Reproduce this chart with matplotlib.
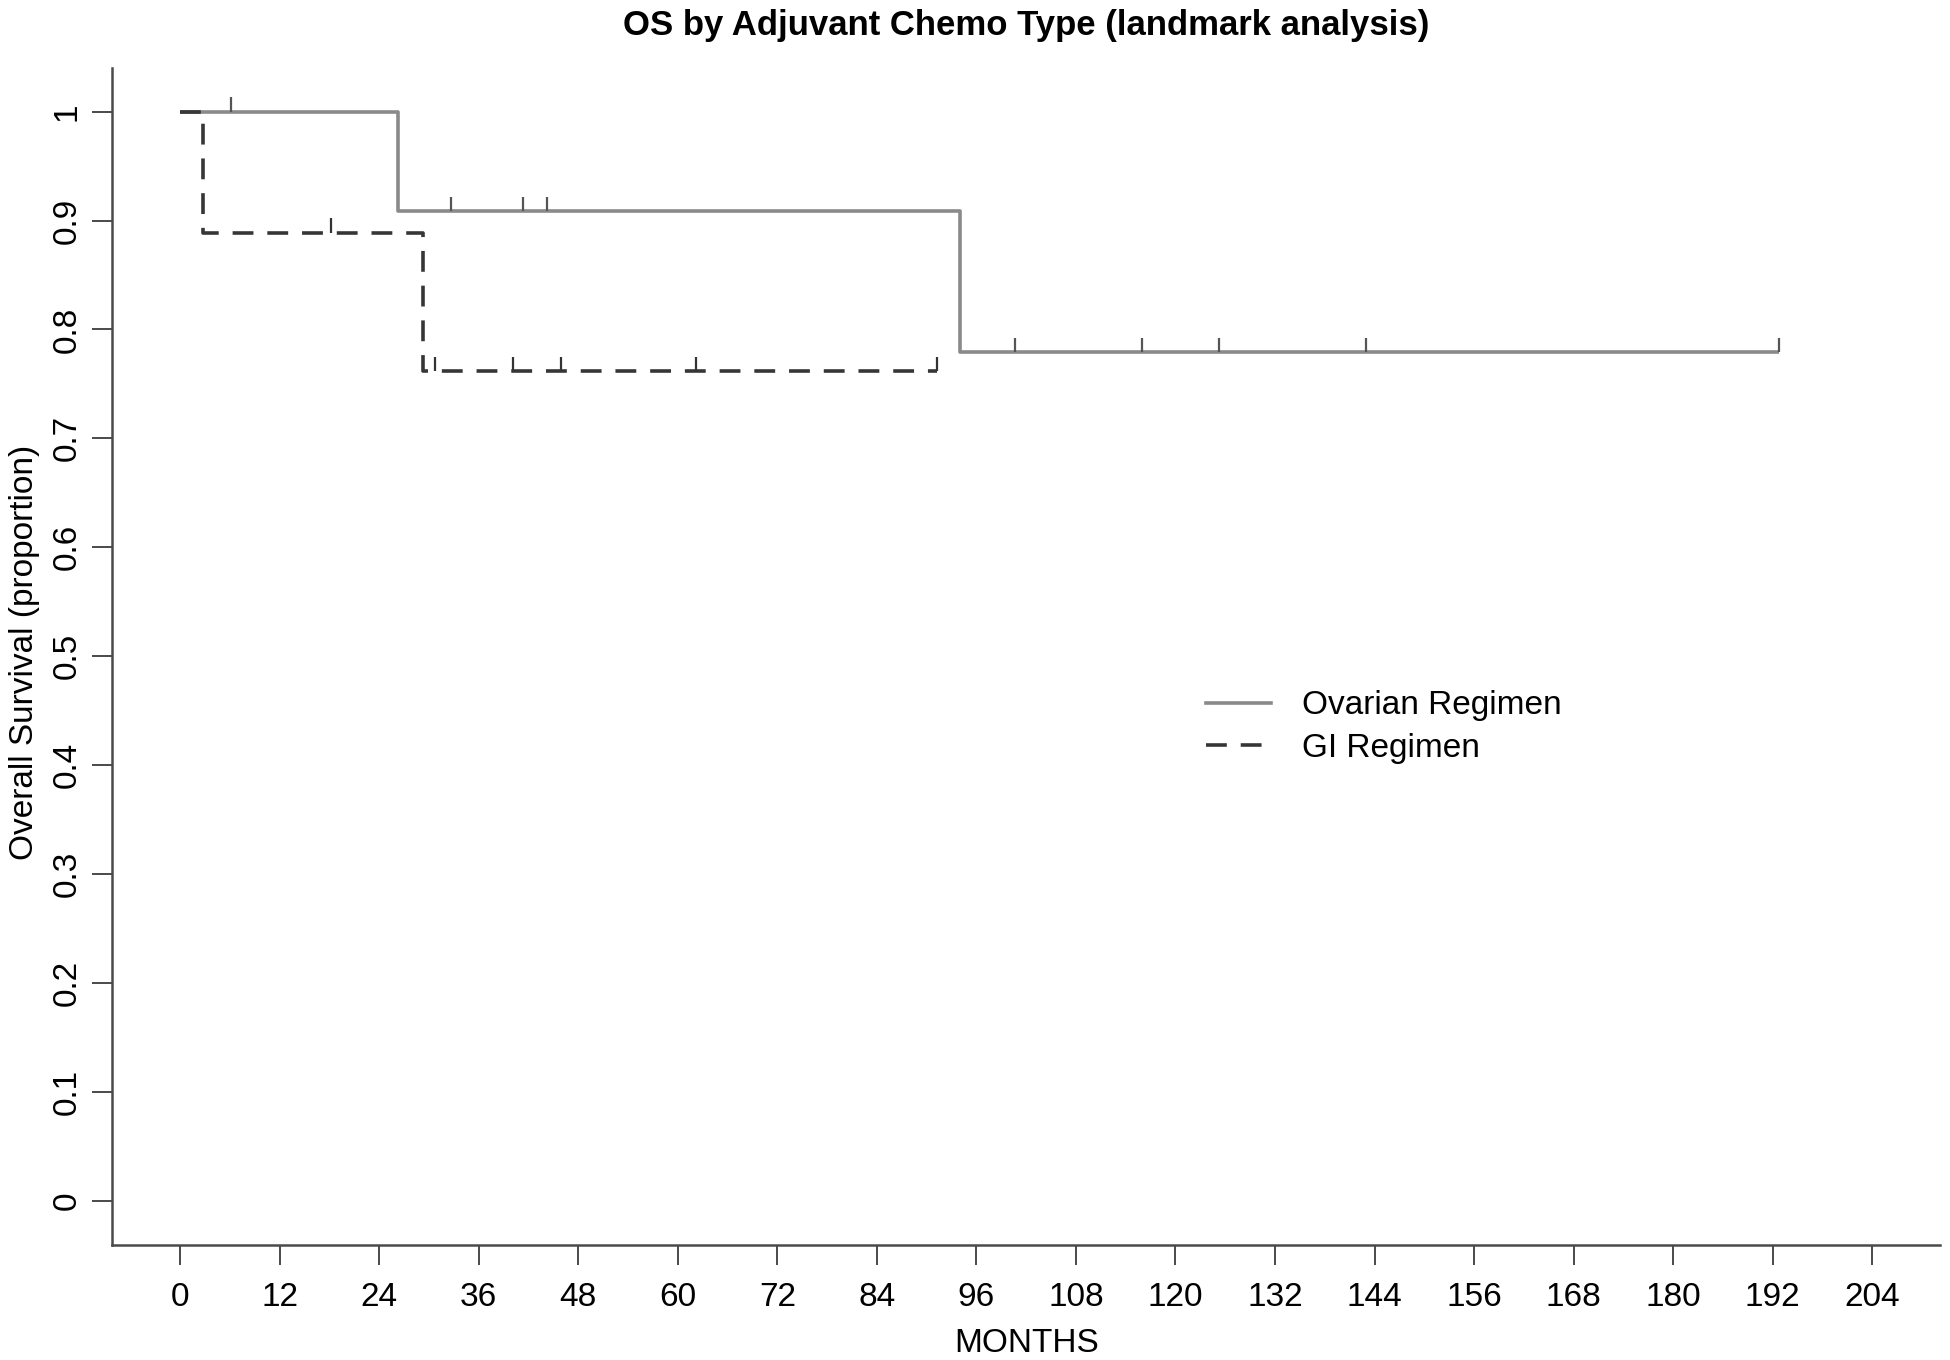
import numpy as np
import matplotlib
matplotlib.use('Agg')
import matplotlib.pyplot as plt
from matplotlib.lines import Line2D

plt.rcParams['font.family'] = ['Liberation Sans', 'DejaVu Sans']

# ---------------- data ----------------
title = "OS by Adjuvant Chemo Type (landmark analysis)"
x_label = "MONTHS"
y_label = "Overall Survival (proportion)"
series_names = ["Ovarian Regimen", "GI Regimen"]

x_ticks = list(range(0, 205, 12))
y_ticks = [0, 0.1, 0.2, 0.3, 0.4, 0.5, 0.6, 0.7, 0.8, 0.9, 1.0]
y_tick_labels = ["0", "0.1", "0.2", "0.3", "0.4", "0.5", "0.6", "0.7", "0.8", "0.9", "1"]

# Ovarian regimen (solid): step times / survival, censor times
ov_times = [0.0, 26.3, 94.0, 192.8]
ov_surv = [1.0, 0.909, 0.779, 0.779]
ov_censor = [6.1, 32.7, 41.4, 44.2, 100.6, 116.0, 125.3, 143.0, 192.8]

# GI regimen (dashed)
gi_times = [0.0, 2.8, 29.3, 91.2]
gi_surv = [1.0, 0.889, 0.762, 0.762]
gi_censor = [18.2, 30.7, 40.2, 45.9, 62.2, 91.2]

# ---------------- styling ----------------
W, H = 1950, 1360
DPI = 100
solid_color = '#8a8a8a'
dash_color = '#363636'
axis_color = '#4a4a4a'
lw = 2.6
dash_pat = (15.0 / lw, 10.0 / lw)
fs = 24
censor_h = 0.013

fig = plt.figure(figsize=(W / DPI, H / DPI), dpi=DPI)
ax_left, ax_right = 112.3, 1940.0
ax_top, ax_bottom = 68.0, 1244.6
ax = fig.add_axes([ax_left / W, 1 - ax_bottom / H,
                   (ax_right - ax_left) / W, (ax_bottom - ax_top) / H])


def level_at(times, surv, t):
    idx = np.searchsorted(np.asarray(times), np.asarray(t), side='right') - 1
    return np.asarray(surv)[idx]


# Ovarian
ax.step(ov_times, ov_surv, where='post', color=solid_color, lw=lw,
        solid_capstyle='butt', zorder=3)
ov_lv = level_at(ov_times, ov_surv, ov_censor)
ax.vlines(ov_censor, ov_lv, ov_lv + censor_h, color='#555555', lw=1.6, zorder=4)

# GI
ax.step(gi_times, gi_surv, where='post', color=dash_color, lw=lw,
        linestyle=(0, dash_pat), dash_capstyle='butt', zorder=5)
gi_lv = level_at(gi_times, gi_surv, gi_censor)
ax.vlines(gi_censor, gi_lv, gi_lv + censor_h, color='#333333', lw=1.6, zorder=6)

ax.set_xlim(-0.04 * 204, 204 * 1.04)
ax.set_ylim(-0.04, 1.04)
ax.set_xticks(x_ticks)
ax.set_xticklabels([str(t) for t in x_ticks])
ax.set_yticks(y_ticks)
ax.set_yticklabels(y_tick_labels, rotation=90, va='center')

for s in ['top', 'right']:
    ax.spines[s].set_visible(False)
for s in ['left', 'bottom']:
    ax.spines[s].set_color(axis_color)
    ax.spines[s].set_linewidth(1.8)

ax.tick_params(axis='both', direction='out', length=14.4, width=1.4,
               color=axis_color, labelsize=fs, labelcolor='black')
ax.tick_params(axis='x', pad=12.5)
ax.tick_params(axis='y', pad=7)

# Titles / labels
fig.text((ax_left + ax_right) / 2 / W, 1 - 35 / H, title, ha='center',
         va='baseline', fontsize=25, fontweight='bold')
fig.text((ax_left + ax_right) / 2 / W, 1 - 1352 / H, x_label, ha='center',
         va='baseline', fontsize=fs)
fig.text(33 / W, 1 - 652 / H, y_label, rotation=90, rotation_mode='anchor',
         ha='center', va='baseline', fontsize=fs)

# Legend
handles = [Line2D([], [], color=solid_color, lw=lw),
           Line2D([], [], color=dash_color, lw=lw, linestyle=(0, dash_pat),
                  dash_capstyle='butt')]
ax.legend(handles, series_names, loc='center left',
          bbox_to_anchor=(1206 / W, 1 - 727 / H), bbox_transform=fig.transFigure,
          frameon=False, fontsize=fs, handlelength=1.95, handletextpad=0.93,
          labelspacing=0.34, borderpad=0, borderaxespad=0)

fig.savefig('out.png', dpi=DPI, facecolor='white')
